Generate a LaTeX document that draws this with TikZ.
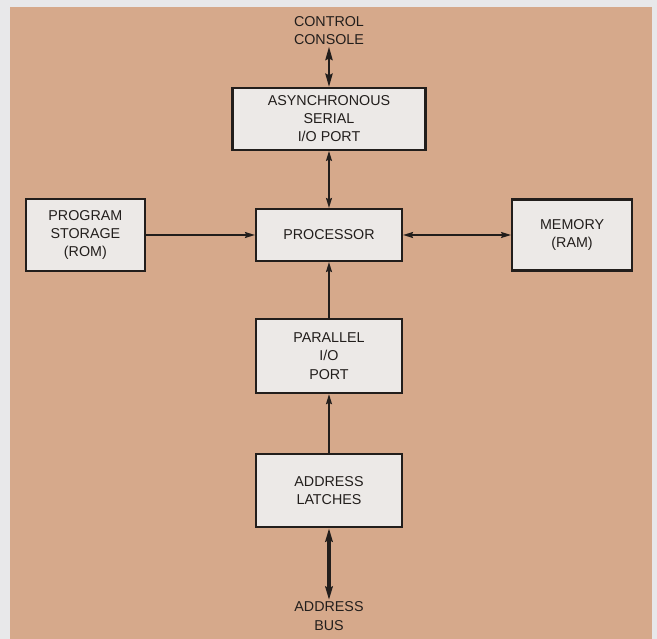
\documentclass[tikz,border=0pt]{standalone}
\usepackage{fontspec}
\setmainfont{Liberation Sans}
\usetikzlibrary{arrows.meta, positioning}
\definecolor{paper}{HTML}{E8E8EA}
\definecolor{tan}{HTML}{D6A98B}
\definecolor{boxfill}{HTML}{ECE9E7}
\definecolor{ink}{HTML}{221E1C}
\tikzset{
    block/.style={
        rectangle,
        draw=ink,
        fill=boxfill,
        line width=1.8pt,
        text=ink,
        minimum width=43.8mm,
        align=center,
        font=\fontsize{12.2}{15.5}\selectfont
    },
    tag/.style={
        text=ink,
        inner sep=0.5mm,
        align=center,
        font=\fontsize{12.2}{16}\selectfont
    },
    arrow/.style={
        draw=ink,
        line width=1.3pt,
        -{Stealth[length=3mm,width=1.8mm,inset=0.4mm]}
    },
    twoway/.style={
        arrow,
        {Stealth[length=3mm,width=1.8mm,inset=0.4mm]}-{Stealth[length=3mm,width=1.8mm,inset=0.4mm]}
    },
    heavy/.style={
        draw=ink,
        line width=#1,
        {Stealth[length=4mm,width=2.2mm,inset=0.5mm]}-{Stealth[length=4mm,width=2.2mm,inset=0.5mm]}
    }
}

\begin{document}
\begin{tikzpicture}[x=1mm, y=1mm]

% sheet and tinted panel
\fill[paper] (-98.7,70.5) rectangle (98.4,-121.2);
\fill[tan] (-95.7,68.4) rectangle (96.9,-121.2);
\useasboundingbox (-98.7,70.5) rectangle (98.4,-121.2);

\node (proc) [block, minimum height=15.6mm] at (0,0) {PROCESSOR};
\node (serial) [block, minimum width=57.9mm, minimum height=18.6mm, above=17.1mm of proc] {ASYNCHRONOUS\\SERIAL\\I/O PORT};
\node (console) [tag, above=12mm of serial] {CONTROL\\CONSOLE};
\node (rom) [block, minimum width=35.7mm, minimum height=21.6mm, left=32.7mm of proc] {PROGRAM\\STORAGE\\(ROM)};
\node (ram) [block, minimum width=36mm, minimum height=21.3mm, right=32.4mm of proc] {MEMORY\\(RAM)};
\node (pio) [block, minimum height=22.2mm, below=16.8mm of proc] {PARALLEL\\I/O\\PORT};
\node (latch) [block, minimum height=21.9mm, below=17.7mm of pio] {ADDRESS\\LATCHES};
\node (bus) [tag, below=21.5mm of latch] {ADDRESS\\BUS};

\draw [heavy=1.7pt] (console) -- (serial);
\draw [twoway] (serial) -- (proc);
\draw [arrow] (rom) -- (proc);
\draw [twoway] (proc) -- (ram);
\draw [arrow] (pio) -- (proc);
\draw [arrow] (latch) -- (pio);
\draw [heavy=2.8pt] (latch) -- (bus);

\end{tikzpicture}
\end{document}
